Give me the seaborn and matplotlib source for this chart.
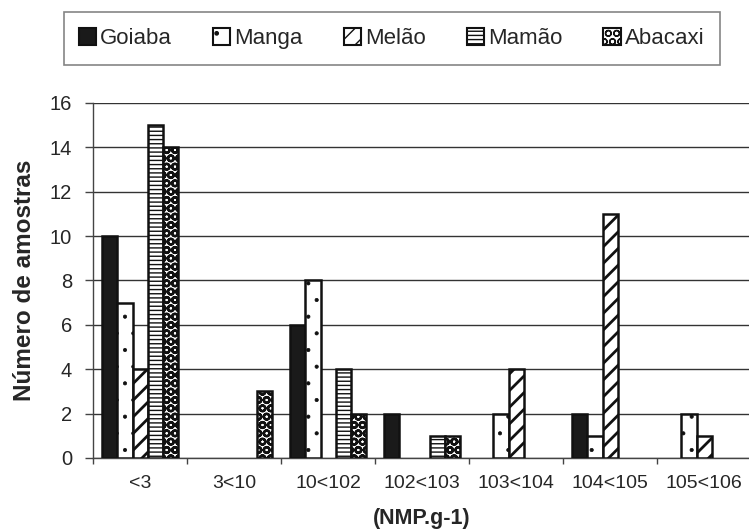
import matplotlib
matplotlib.use("Agg")
import matplotlib.pyplot as plt
import seaborn as sns
import pandas as pd
import numpy as np
from matplotlib.patches import Patch

categories = ["<3", "3<10", "10<102", "102<103", "103<104", "104<105", "105<106"]
series_names = ["Goiaba", "Manga", "Melão", "Mamão", "Abacaxi"]
goiaba = [10, 0, 6, 2, 0, 2, 0]
manga = [7, 0, 8, 0, 2, 1, 2]
melao = [4, 0, 0, 0, 4, 11, 1]
mamao = [15, 0, 4, 1, 0, 0, 0]
abacaxi = [14, 3, 2, 1, 0, 0, 0]
y_ticks = [0, 2, 4, 6, 8, 10, 12, 14, 16]

values = [goiaba, manga, melao, mamao, abacaxi]
rows = []
for name, vals in zip(series_names, values):
    for cat, v in zip(categories, vals):
        rows.append({"faixa": cat, "fruta": name, "n": v})
df = pd.DataFrame(rows)

sns.set_style("white")
plt.rcParams["font.family"] = ["Liberation Sans", "DejaVu Sans"]
plt.rcParams["hatch.color"] = "#111111"

fig = plt.figure(figsize=(7.49, 5.32), dpi=100)
ax = fig.add_axes([0.1242, 0.1391, 0.8785, 0.6673])

fills = ["#1a1a1a", "white", "white", "white", "white"]
hatches = ["", ".", "//", "----", "OO"]
hatch_lw = [1.0, 0.5, 2.0, 1.0, 1.7]


def style_hatch(patch, h, lw):
    patch.set_hatch(h)
    if hasattr(patch, "set_hatch_linewidth"):
        patch.set_hatch_linewidth(lw)


sns.barplot(data=df, x="faixa", y="n", hue="fruta", order=categories,
            hue_order=series_names, palette=fills, width=0.8,
            edgecolor="#111111", linewidth=1.8, legend=False, ax=ax, zorder=3)

for cont, h, lw in zip(ax.containers, hatches, hatch_lw):
    for bar in cont:
        style_hatch(bar, h, lw)
        if bar.get_height() == 0:
            bar.set_visible(False)

ax.set_ylim(0, 16)
ax.set_yticks(y_ticks)
ax.set_xlim(-0.5, len(categories) - 0.5)
ax.yaxis.grid(True, color="#333333", linewidth=1.0, zorder=0)
ax.set_axisbelow(True)

for s in ["top", "right"]:
    ax.spines[s].set_visible(False)
for s in ["left", "bottom"]:
    ax.spines[s].set_color("#444444")
    ax.spines[s].set_linewidth(1.0)

ax.tick_params(axis="y", which="major", left=True, length=6, width=1,
               color="#444444", labelsize=14.5, pad=9)
ax.tick_params(axis="x", which="major", length=0, labelsize=14, pad=12)
ax.set_xticks(np.arange(-0.5, len(categories)), minor=True)
ax.tick_params(axis="x", which="minor", bottom=True, length=4, width=1,
               color="#444444")

ax.set_xlabel("(NMP.g-1)", fontsize=15.5, fontweight="bold", labelpad=12)
ax.set_ylabel("Número de amostras", fontsize=17.5, fontweight="bold",
              labelpad=10)

handles = []
for f, h, lw in zip(fills, hatches, hatch_lw):
    p = Patch(facecolor=f, edgecolor="#111111", linewidth=1.5)
    style_hatch(p, h, min(lw, 1.2))
    handles.append(p)
leg = fig.legend(handles, series_names, loc="center",
                 bbox_to_anchor=(0.523, 0.9276), ncol=5, fontsize=16,
                 frameon=True, fancybox=False, edgecolor="#666666",
                 handlelength=0.77, handleheight=0.77, handletextpad=0.18,
                 columnspacing=1.85, borderpad=0.7)
leg.get_frame().set_linewidth(1.2)

fig.savefig("out.png", dpi=100)
